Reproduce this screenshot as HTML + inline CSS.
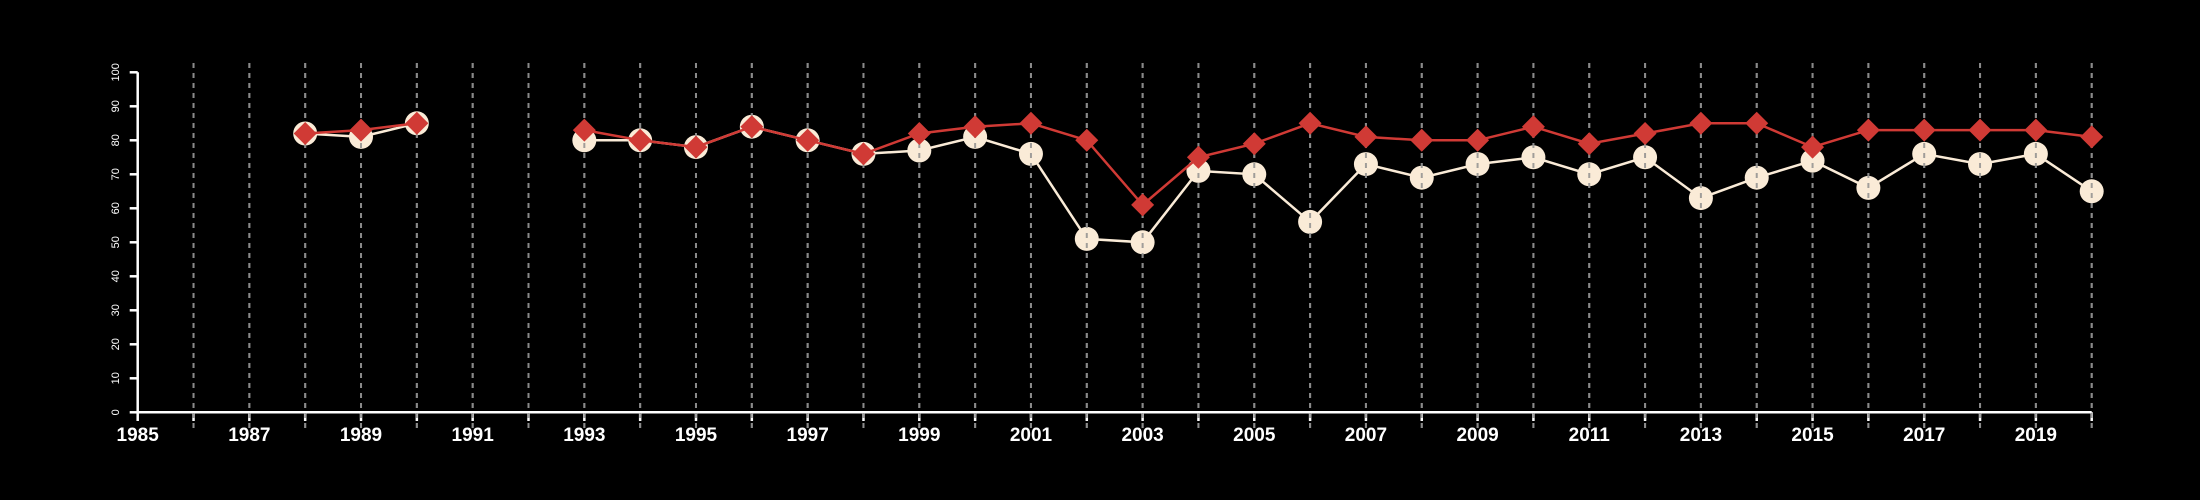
<!DOCTYPE html>
<html><head><meta charset="utf-8"><style>
html,body{margin:0;padding:0;background:#000;}
svg{display:block;font-family:"Liberation Sans",sans-serif;}
</style></head><body>
<svg id="chart" width="2200" height="500" viewBox="0 0 2200 500" xmlns="http://www.w3.org/2000/svg">
<rect width="2200" height="500" fill="#000"/>
<g id="grid"></g>
<g id="axes"></g>
<g id="whiteS"></g>
<g id="grid2"></g>
<g id="redS"></g>
</svg>
<script>
const years = [1988,1989,1990,1993,1994,1995,1996,1997,1998,1999,2000,2001,2002,2003,2004,2005,2006,2007,2008,2009,2010,2011,2012,2013,2014,2015,2016,2017,2018,2019,2020];
const whiteVals = [82,81,85,80,80,78,84,80,76,77,81,76,51,50,71,70,56,73,69,73,75,70,75,63,69,74,66,76,73,76,65];
const redVals = [82,83,85,83,80,78,84,80,76,82,84,85,80,61,75,79,85,81,80,80,84,79,82,85,85,78,83,83,83,83,81];
const yTicks = [0,10,20,30,40,50,60,70,80,90,100];
const xLabelYears = [1985,1987,1989,1991,1993,1995,1997,1999,2001,2003,2005,2007,2009,2011,2013,2015,2017,2019];

const NS="http://www.w3.org/2000/svg";
const x0=137.7, x1=2091.7, yb=412.3, yt=72.3;
const X=y=>x0+(y-1985)*(x1-x0)/35;
const Y=v=>yb-(v)*(yb-yt)/100;
function mk(tag,attrs,parent){const e=document.createElementNS(NS,tag);for(const k in attrs)e.setAttribute(k,attrs[k]);parent.appendChild(e);return e;}
const grid=document.getElementById('grid'),grid2=document.getElementById('grid2'),axes=document.getElementById('axes');
for(let yr=1986;yr<=2020;yr++){
  for(const g of [grid,grid2]){
    const l=mk('line',{x1:X(yr),x2:X(yr),y1:63,y2:428,stroke:'#8a8a8a','stroke-width':2,'stroke-dasharray':'5,5',opacity:g===grid2?0.8:1},g);
    
    
  }
}
let a=mk('line',{x1:x0,x2:x1,y1:yb,y2:yb,stroke:'#fff','stroke-width':2.5},axes);

a=mk('line',{x1:x0,x2:x0,y1:yb,y2:yt,stroke:'#fff','stroke-width':2.5},axes);

for(let yr=1985;yr<=2020;yr++){
  const t=mk('line',{x1:X(yr),x2:X(yr),y1:yb,y2:421,stroke:'#fff','stroke-width':2.5},axes);
  
}
xLabelYears.forEach(yr=>{
  const t=mk('text',{x:X(yr),y:441,fill:'#fff','font-size':19,'font-weight':'bold','text-anchor':'middle'},axes);
  t.textContent=yr;
  
});
yTicks.forEach(v=>{
  const t=mk('line',{x1:x0,x2:x0-8,y1:Y(v),y2:Y(v),stroke:'#fff','stroke-width':2.5},axes);
  
  const tx=mk('text',{x:0,y:0,fill:'#fff','font-size':11,'text-anchor':'middle',transform:`translate(119,${Y(v)}) rotate(-90)`},axes);
  tx.textContent=v;
  
});
function segs(vals){const out=[];let cur=[];years.forEach((yr,i)=>{if(i>0&&yr-years[i-1]>1){out.push(cur);cur=[];}cur.push([X(yr),Y(vals[i])]);});out.push(cur);return out;}
const ws=document.getElementById('whiteS'),rs=document.getElementById('redS');
segs(whiteVals).forEach(s=>{const p=mk('polyline',{points:s.map(q=>q.join(',')).join(' '),fill:'none',stroke:'#faebd7','stroke-width':2.5},ws);});
years.forEach((yr,i)=>{const c=mk('circle',{cx:X(yr),cy:Y(whiteVals[i]),r:12,fill:'#faebd7'},ws);});
segs(redVals).forEach(s=>{const p=mk('polyline',{points:s.map(q=>q.join(',')).join(' '),fill:'none',stroke:'#d03a35','stroke-width':2.5},rs);});
years.forEach((yr,i)=>{const cx=X(yr),cy=Y(redVals[i]),d=11.5;const p=mk('polygon',{points:`${cx},${cy-d} ${cx+d},${cy} ${cx},${cy+d} ${cx-d},${cy}`,fill:'#d03a35'},rs);});
</script>
</body></html>
